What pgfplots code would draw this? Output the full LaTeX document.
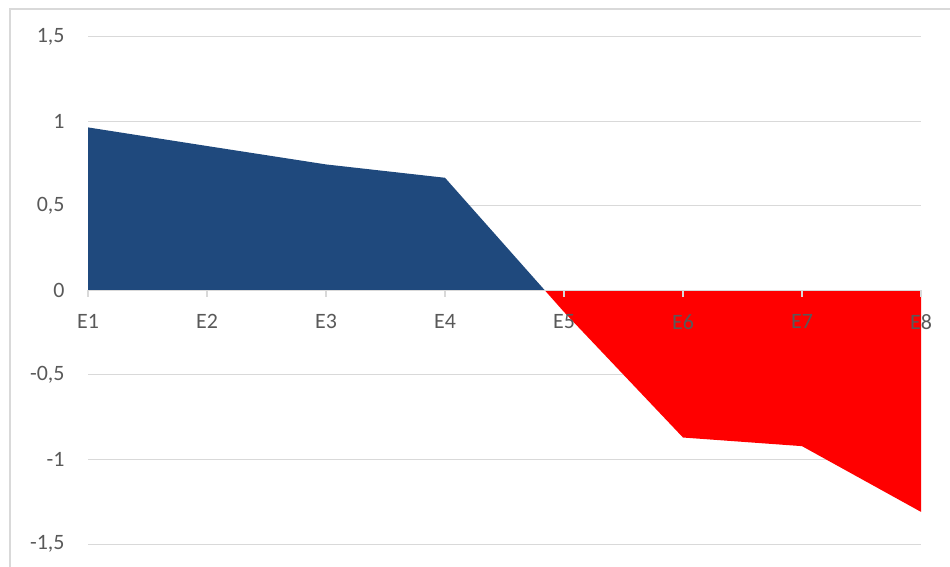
\documentclass[border=0pt]{standalone}
\usepackage{pgfplots}
\pgfplotsset{compat=1.18}
\usepackage{fontspec}
\setmainfont{Carlito}

\definecolor{xlblue}{HTML}{1F497D}
\definecolor{xlred}{HTML}{FF0000}
\definecolor{xltext}{HTML}{595959}
\definecolor{xlgrid}{HTML}{D9D9D9}

\pgfplotsset{
  xlframe/.style={
    at={(88bp,23bp)}, anchor=south west,
    scale only axis,
    width=833bp, height=507bp,
    xmin=1, xmax=8, ymin=-1.5, ymax=1.5,
    xtick={1,...,8},
    ytick={-1.5,-1,...,1.5},
    axis line style={draw=none},
    major tick length=0pt,
    clip=false,
    tick label style={font=\fontsize{22}{24}\selectfont, text=xltext},
    /pgf/number format/assume math mode=true,
  },
}

\pgfplotstableread{
x  y
1  0.965
2  0.855
3  0.746
4  0.667
5  -0.127
6  -0.870
7  -0.921
8  -1.31
}\datatable

\begin{document}
\begin{tikzpicture}
\useasboundingbox (0,0) rectangle (950bp,567bp);
\draw[xlgrid, line width=2bp] (10bp,0) -- (10bp,558bp) -- (950bp,558bp);
\begin{axis}[
    xlframe,
    xticklabels={},
    ymajorgrids,
    grid style={xlgrid, line width=1bp},
    yticklabel style={/pgf/number format/use comma, xshift=-20bp},
]
\begin{scope}
  \clip (axis cs:1,0) rectangle (axis cs:8,1.5);
  \addplot[fill=xlblue, draw=none] table[x=x, y=y] {\datatable} \closedcycle;
\end{scope}
\begin{scope}
  \clip (axis cs:1,-1.5) rectangle (axis cs:8,0);
  \addplot[fill=xlred, draw=none] table[x=x, y=y] {\datatable} \closedcycle;
\end{scope}
\draw[xlgrid, line width=1.2bp] (axis cs:1,0) -- (axis cs:8,0);
\pgfplotsinvokeforeach{1,...,8}{
  \draw[xlgrid, line width=1.2bp] (axis cs:#1,0) -- ([yshift=-7bp]axis cs:#1,0);
}
\end{axis}
% category names, drawn over the areas
\begin{axis}[
    xlframe,
    xticklabels={E1,E2,E3,E4,E5,E6,E7,E8},
    yticklabels={},
    xticklabel style={yshift=233bp},
]
\end{axis}
\end{tikzpicture}
\end{document}
